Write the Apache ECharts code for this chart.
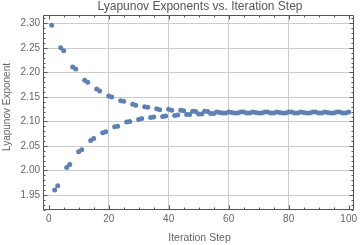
<!DOCTYPE html>
<html>
<head>
<meta charset="utf-8">
<script src="https://cdn.jsdelivr.net/npm/echarts@6/dist/echarts.min.js"></script>
<style>
html,body{margin:0;padding:0;background:#fff;}
#chart{width:360px;height:245px;}
</style>
</head>
<body>
<div id="chart"></div>
<script>
// Lyapunov exponent estimate at each iteration step 1..100
var exponentValues = [
  2.296, 1.960, 1.969, 2.250, 2.244, 2.006, 2.012, 2.211, 2.207, 2.038,
  2.042, 2.184, 2.180, 2.061, 2.065, 2.166, 2.162, 2.077, 2.079, 2.152,
  2.150, 2.089, 2.090, 2.142, 2.141, 2.099, 2.100, 2.135, 2.133, 2.104,
  2.106, 2.130, 2.129, 2.108, 2.109, 2.126, 2.124, 2.110, 2.111, 2.125,
  2.123, 2.112, 2.113, 2.123, 2.122, 2.114, 2.114, 2.121, 2.120, 2.115,
  2.115, 2.121, 2.120, 2.116, 2.116, 2.119, 2.118, 2.117, 2.117, 2.119,
  2.118, 2.117, 2.117, 2.119, 2.119, 2.117, 2.117, 2.119, 2.118, 2.117,
  2.117, 2.119, 2.119, 2.117, 2.117, 2.119, 2.118, 2.117, 2.117, 2.119,
  2.119, 2.117, 2.117, 2.119, 2.118, 2.117, 2.117, 2.119, 2.119, 2.117,
  2.117, 2.119, 2.118, 2.117, 2.117, 2.119, 2.119, 2.117, 2.117, 2.119
];
var iterationSteps = exponentValues.map(function (v, i) { return i + 1; });

var xMajorTicks = [0, 20, 40, 60, 80, 100];
var xMinorTicks = [5, 10, 15, 25, 30, 35, 45, 50, 55, 65, 70, 75, 85, 90, 95];
var xGridValues = [20, 40, 60, 80];
var yMajorTicks = [1.95, 2.00, 2.05, 2.10, 2.15, 2.20, 2.25, 2.30];
var yMinorTicks = [1.92, 1.93, 1.94, 1.96, 1.97, 1.98, 1.99, 2.01, 2.02, 2.03, 2.04,
  2.06, 2.07, 2.08, 2.09, 2.11, 2.12, 2.13, 2.14, 2.16, 2.17, 2.18, 2.19,
  2.21, 2.22, 2.23, 2.24, 2.26, 2.27, 2.28, 2.29, 2.31];

var titleText = 'Lyapunov Exponents vs. Iteration Step';
var xTitle = 'Iteration Step';
var yTitle = 'Lyapunov Exponent';

var X_MIN = -1.9, X_MAX = 101.9, Y_MIN = 1.9194, Y_MAX = 2.317;
var FRAME_COLOR = '#555555', GRID_COLOR = '#cccccc', LABEL_COLOR = '#666666';
var FONT = '"Liberation Sans", Arial, sans-serif';

var chart = echarts.init(document.getElementById('chart'));
chart.setOption({
  animation: false,
  title: {
    text: titleText, left: 200, top: 1, padding: 0, textAlign: 'center',
    textStyle: { color: '#555555', fontSize: 12, fontWeight: 'normal', fontFamily: FONT }
  },
  grid: { left: 43, right: 4, top: 15, bottom: 35, outerBoundsContain: 'axisLabel' },
  xAxis: [{
    type: 'value', position: 'bottom', min: X_MIN, max: X_MAX,
    axisLine: { show: false, onZero: false },
    axisTick: { show: false, customValues: xGridValues },
    axisLabel: { show: true, customValues: xMajorTicks, color: LABEL_COLOR, fontSize: 10, fontFamily: FONT, margin: 4 },
    splitLine: { show: true, lineStyle: { color: GRID_COLOR, width: 1 } }
  }],
  yAxis: [{
    type: 'value', position: 'left', min: Y_MIN, max: Y_MAX,
    axisLine: { show: false, onZero: false },
    axisTick: { show: false, customValues: yMajorTicks },
    axisLabel: {
      show: true, customValues: yMajorTicks, color: LABEL_COLOR, fontSize: 10, fontFamily: FONT, margin: 3,
      formatter: function (v) { return Number(v).toFixed(2); }
    },
    splitLine: { show: true, lineStyle: { color: GRID_COLOR, width: 1 } }
  }],
  series: [{
    type: 'scatter',
    xAxisIndex: 0, yAxisIndex: 0,
    symbol: 'circle', symbolSize: 5,
    itemStyle: { color: 'rgb(94,129,181)', opacity: 1 },
    data: iterationSteps.map(function (s, i) { return [s, exponentValues[i]]; })
  }]
});

// Frame and inward ticks, placed through the chart's own axis scales
var corner0 = chart.convertToPixel({ gridIndex: 0 }, [X_MIN, Y_MIN]);
var corner1 = chart.convertToPixel({ gridIndex: 0 }, [X_MAX, Y_MAX]);
var L = Math.round(corner0[0]) + 0.5, B = Math.round(corner0[1]) - 0.5;
var R = Math.round(corner1[0]) - 0.5, T = Math.round(corner1[1]) + 0.5;
var lineStyle = { stroke: FRAME_COLOR, lineWidth: 1 };
var elements = [
  { type: 'rect', z: 50, silent: true, shape: { x: L, y: T, width: R - L, height: B - T }, style: { fill: 'none', stroke: FRAME_COLOR, lineWidth: 1 } },
  { type: 'text', x: 199.5, y: 238, style: { text: xTitle, fill: LABEL_COLOR, font: '10.5px ' + FONT, align: 'center', verticalAlign: 'middle' } },
  { type: 'text', x: 7, y: 107, rotation: Math.PI / 2, style: { text: yTitle, fill: LABEL_COLOR, font: '10px ' + FONT, align: 'center', verticalAlign: 'middle' } }
];
function addXTicks(values, len) {
  values.forEach(function (v) {
    var px = Math.round(chart.convertToPixel({ gridIndex: 0 }, [v, Y_MIN])[0]) + 0.5;
    elements.push({ type: 'line', z: 50, silent: true, shape: { x1: px, y1: B, x2: px, y2: B - len }, style: lineStyle });
    elements.push({ type: 'line', z: 50, silent: true, shape: { x1: px, y1: T, x2: px, y2: T + len }, style: lineStyle });
  });
}
function addYTicks(values, len) {
  values.forEach(function (v) {
    var py = Math.round(chart.convertToPixel({ gridIndex: 0 }, [X_MIN, v])[1]) + 0.5;
    elements.push({ type: 'line', z: 50, silent: true, shape: { x1: L, y1: py, x2: L + len, y2: py }, style: lineStyle });
    elements.push({ type: 'line', z: 50, silent: true, shape: { x1: R, y1: py, x2: R - len, y2: py }, style: lineStyle });
  });
}
addXTicks(xMajorTicks, 4);
addXTicks(xMinorTicks, 2);
addYTicks(yMajorTicks, 4);
addYTicks(yMinorTicks, 2);
chart.setOption({ graphic: { elements: elements } });
</script>
</body>
</html>
